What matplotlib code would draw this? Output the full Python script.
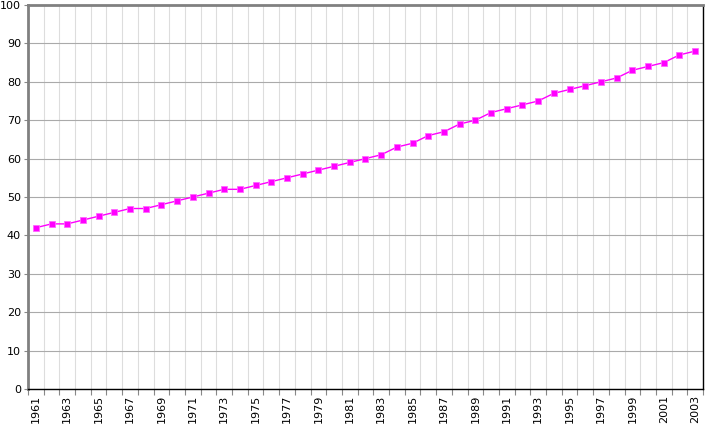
import numpy as np
import matplotlib
matplotlib.use('Agg')
import matplotlib.pyplot as plt

# 年份与数值
years = list(range(1961, 2004))
values = [42, 43, 43, 44, 45, 46, 47, 47, 48, 49, 50, 51, 52, 52, 53, 54, 55, 56, 57, 58,
          59, 60, 61, 63, 64, 66, 67, 69, 70, 72, 73, 74, 75, 77, 78, 79, 80, 81, 83, 84,
          85, 87, 88]
y_ticks = list(range(0, 101, 10))

fig = plt.figure(figsize=(7.24, 4.26), dpi=100)
ax = fig.add_axes([28 / 724, 37 / 426, 675 / 724, 384 / 426])

x = np.arange(len(years))
ax.plot(x, values, color='#ff00ff', linewidth=1, marker='s', markersize=4.6,
        markerfacecolor='#ff00ff', markeredgecolor='#ff66ff', markeredgewidth=0.6, zorder=3)

ax.set_xlim(-0.5, len(years) - 0.5)
ax.set_ylim(0, 100)

# 横轴刻度: 分界处画短线, 标签放在类别中心
ax.set_xticks(x[::2])
ax.set_xticklabels([str(y) for y in years[::2]], rotation=90, fontsize=8)
ax.set_xticks(np.arange(len(years) + 1) - 0.5, minor=True)
ax.tick_params(axis='x', which='major', length=0, pad=4)
ax.tick_params(axis='x', which='minor', length=4, width=0.8, color='#888888')

ax.set_yticks(y_ticks)
ax.set_yticklabels([str(v) for v in y_ticks], fontsize=8)
ax.tick_params(axis='y', length=3, width=0.8, color='#888888', pad=2)

ax.grid(axis='x', which='minor', color='#dddddd', linewidth=0.8)
ax.grid(axis='y', which='major', color='#aaaaaa', linewidth=0.8)
ax.set_axisbelow(True)

ax.spines['left'].set_color('#808080')
ax.spines['left'].set_linewidth(2)
ax.spines['top'].set_color('#808080')
ax.spines['top'].set_linewidth(2)
ax.spines['right'].set_color('black')
ax.spines['right'].set_linewidth(1)
ax.spines['bottom'].set_color('black')
ax.spines['bottom'].set_linewidth(1)

fig.savefig('out.png', dpi=100)
